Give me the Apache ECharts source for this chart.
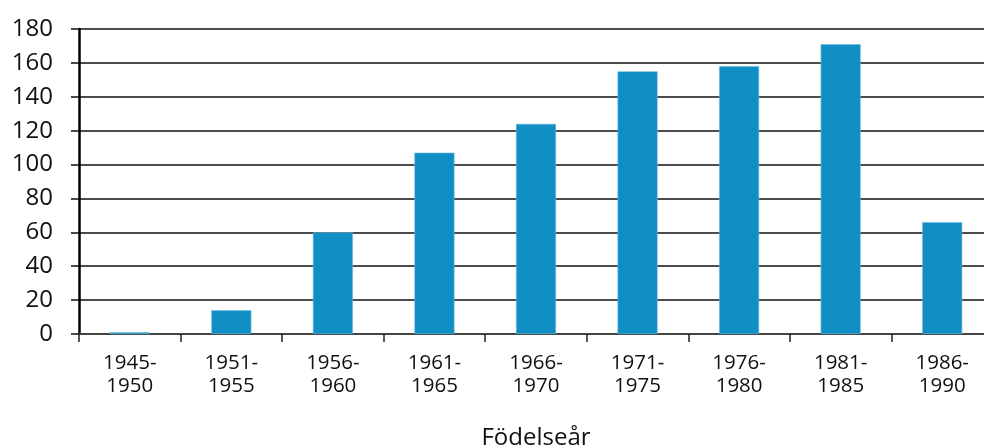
<!DOCTYPE html>
<html>
<head>
<meta charset="utf-8">
<script src="https://cdn.jsdelivr.net/npm/echarts@6/dist/echarts.min.js"></script>
<style>
  html, body { margin: 0; padding: 0; background: #fff; }
  #chart { width: 984px; height: 445px; }
</style>
</head>
<body>
<div id="chart"></div>
<script>
var categories = ['1945-\n1950', '1951-\n1955', '1956-\n1960', '1961-\n1965', '1966-\n1970',
                  '1971-\n1975', '1976-\n1980', '1981-\n1985', '1986-\n1990'];
var values = [1, 14, 60, 107, 124, 155, 158, 171, 66];
var axisTitle = 'Födelseår';

var myChart = echarts.init(document.getElementById('chart'));

var option = {
    backgroundColor: '#fff',
    animation: false,
    grid: { left: 79, right: -9, top: 29, bottom: 111, outerBoundsMode: 'none', containLabel: false },
    xAxis: {
        type: 'category',
        data: categories,
        name: axisTitle,
        nameLocation: 'middle',
        nameGap: 92,
        nameTextStyle: { fontFamily: 'Open Sans', fontSize: 24, color: '#111' },
        axisLine: { lineStyle: { color: '#444', width: 2 } },
        axisTick: { show: true, length: 8, lineStyle: { color: '#222', width: 1.5 } },
        axisLabel: {
            margin: 18,
            fontFamily: 'Open Sans',
            fontSize: 20.5,
            lineHeight: 23,
            color: '#111'
        }
    },
    yAxis: {
        type: 'value',
        min: 0,
        max: 180,
        interval: 20,
        axisLine: { show: true, lineStyle: { color: '#000', width: 2.5 } },
        axisTick: { show: true, length: 8, lineStyle: { color: '#111', width: 1.5 } },
        splitLine: { lineStyle: { color: '#111', width: 1.5 } },
        axisLabel: {
            margin: 26,
            fontFamily: 'Open Sans',
            fontSize: 24,
            color: '#111'
        }
    },
    series: [{
        type: 'bar',
        data: values,
        barWidth: 40,
        itemStyle: { color: '#108fc4', borderColor: '#6bb8dc', borderWidth: 0.6 }
    }]
};
myChart.setOption(option);
</script>
</body>
</html>
